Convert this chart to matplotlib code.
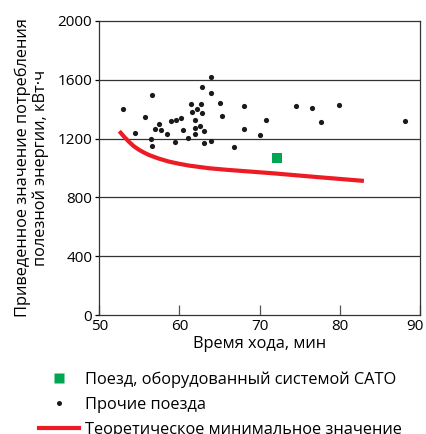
import matplotlib.pyplot as plt
import matplotlib.transforms as mtransforms
from matplotlib.lines import Line2D

plt.rcParams['font.family'] = ['Open Sans', 'DejaVu Sans']

# Other trains: running time (min) and energy (kWh)
other_x = [52.95, 56.6, 54.4, 55.7, 56.4, 56.6, 57.0, 57.4, 57.7, 58.5, 59.0, 59.6,
           59.4, 60.2, 60.4, 61.1, 61.5, 61.6, 62.0, 62.2, 62.0, 62.5, 62.7, 62.8,
           62.8, 62.0, 63.0, 63.0, 63.9, 63.9, 63.9, 65.0, 65.3, 66.8, 68.1, 68.1,
           70.0, 70.8, 74.5, 76.5, 77.7, 79.9, 88.1]
other_y = [1399, 1498, 1236, 1343, 1200, 1151, 1268, 1302, 1255, 1228, 1316, 1327,
           1178, 1338, 1261, 1203, 1434, 1383, 1324, 1403, 1270, 1288, 1437, 1550,
           1374, 1228, 1250, 1169, 1620, 1509, 1182, 1441, 1353, 1140, 1419, 1266,
           1223, 1329, 1421, 1408, 1311, 1428, 1318]

# CATO-equipped train
cato_x = [72.2]
cato_y = [1065]

# theoretical minimum curve
theory_x = [52.5, 53.1, 53.7, 54.3, 55.0, 55.6, 56.2, 57.4, 58.7, 60.0, 61.2, 63.7,
            66.0, 71.6, 77.4, 83.0]
theory_y = [1250, 1212, 1178, 1148, 1122, 1104, 1088, 1064, 1043, 1028, 1016, 998,
            987, 964, 937, 912]

labels = ['Поезд, оборудованный системой CATO',
          'Прочие поезда',
          'Теоретическое минимальное значение']

red = '#ed1c24'
green = '#00a651'

fig = plt.figure(figsize=(4.26, 4.34), dpi=100)
ax = fig.add_axes([0.233, 0.274, 0.753, 0.678])

for yv in [400, 800, 1200, 1600]:
    ax.axhline(yv, color='#333333', lw=0.9, zorder=1)

ax.plot(theory_x, theory_y, color=red, lw=3.0, solid_capstyle='butt', zorder=2)
ax.scatter(other_x, other_y, s=14, color='#1a1a1a', zorder=3, linewidths=0)
ax.scatter(cato_x, cato_y, s=48, marker='s', color=green, zorder=3, linewidths=0)

ax.set_xlim(50, 90)
ax.set_ylim(0, 2000)
ax.set_xticks([50, 60, 70, 80, 90])
ax.set_yticks([0, 400, 800, 1200, 1600, 2000])
ax.tick_params(axis='x', direction='in', length=7, width=0.9, color='#555555',
               labelsize=11, pad=3)
ax.tick_params(axis='y', direction='out', length=3, width=0.9, labelsize=11, pad=2)
for s in ax.spines.values():
    s.set_color('#333333')
    s.set_linewidth(0.9)

# last x label sits a bit left of its tick, like the original
last = ax.xaxis.get_major_ticks()[-1].label1
last.set_transform(last.get_transform() +
                   mtransforms.ScaledTranslation(-0.05, 0, fig.dpi_scale_trans))

ax.set_xlabel('Время хода, мин', fontsize=11.8, labelpad=1)
ax.set_ylabel('Приведенное значение потребления\nполезной энергии, кВт·ч',
              fontsize=11.8, labelpad=6, linespacing=1.15)

handles = [
    Line2D([], [], ls='none', marker='s', ms=6.5, color=green, mec='none'),
    Line2D([], [], ls='none', marker='o', ms=3.6, color='#1a1a1a', mec='none'),
    Line2D([], [], color=red, lw=3.0),
]
fig.legend(handles, labels, loc='upper left', bbox_to_anchor=(0.0915, 0.144),
           frameon=False, fontsize=11.8, handlelength=2.44, handletextpad=0.37,
           labelspacing=0.54, borderaxespad=0, borderpad=0)

fig.savefig('out.png', dpi=100)
